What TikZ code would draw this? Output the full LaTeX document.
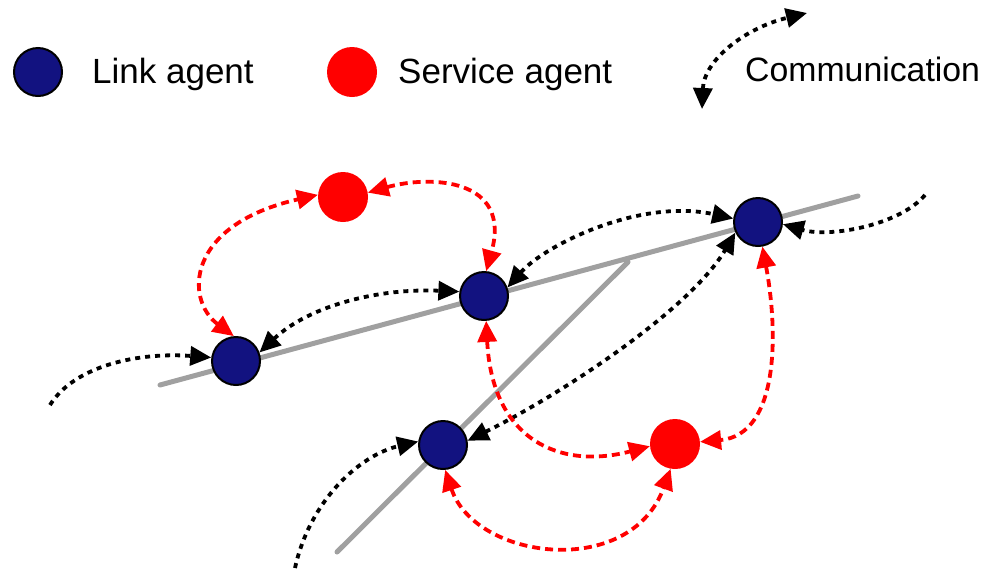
\documentclass[tikz,border=0pt]{standalone}
\usepackage{fontspec}
\setmainfont{Liberation Sans}
\usetikzlibrary{arrows.meta}
\definecolor{linkblue}{RGB}{18,18,128}
\definecolor{roadgray}{RGB}{160,160,160}
\tikzset{
  bigtip/.tip={Triangle[length=21pt,width=19pt]},
  linkagent/.style={circle, draw=black, line width=2pt, fill=linkblue, minimum size=48pt, inner sep=0pt},
  serviceagent/.style={circle, fill=red, minimum size=50pt, inner sep=0pt},
  road/.style={line width=5pt, draw=roadgray, line cap=round},
  comm/.style={line width=3.8pt, dash pattern=on 5pt off 5pt, draw=black},
  scomm/.style={line width=3.8pt, dash pattern=on 8pt off 5pt, draw=red},
  one/.style={-{bigtip}},
  two/.style={{bigtip}-{bigtip}},
  lbl/.style={font=\fontsize{35}{40}\selectfont, anchor=base west, inner sep=0pt}
}
\begin{document}
\begin{tikzpicture}[x=1pt,y=-1pt]
\useasboundingbox (0,0) rectangle (982,571);
% legend
\node[linkagent] (lgL) at (38,72) {};
\node[lbl] (tL) at (92,83) {Link agent};
\node[serviceagent] (lgS) at (352,72) {};
\node[lbl] (tS) at (398,83) {Service agent};
\node[lbl, font=\fontsize{33.8}{40}\selectfont] (tC) at (745,81) {Communication};
\coordinate (lgA) at (702,109);
\coordinate (lgB) at (807,13);
\draw[comm,two] (lgA) .. controls (704,60) and (745,28) .. (lgB);
% roads
\coordinate (r1) at (160,385);
\coordinate (r2) at (858,196);
\coordinate (rj) at (628,262);
\coordinate (r3) at (337,552);
\draw[road] (r1) -- (r2);
\draw[road] (rj) -- (r3);
% agents
\node[linkagent] (L1) at (236,361) {};
\node[linkagent] (L2) at (484,296) {};
\node[linkagent] (L3) at (758,222) {};
\node[linkagent] (L4) at (443,445) {};
\node[serviceagent] (S1) at (343,197) {};
\node[serviceagent] (S2) at (675,444) {};
% free ends
\coordinate (f1) at (50,405);
\coordinate (f2) at (925,195);
\coordinate (f3) at (295,568);
% black communications
\draw[comm,one] (f1) .. controls (75,365) and (140,352) .. (L1.172);
\draw[comm,two] (L1.20) .. controls (310,305) and (380,288) .. (L2.170);
\draw[comm,two] (L2.20) .. controls (545,245) and (640,198) .. (L3.172);
\draw[comm,one] (f2) .. controls (900,225) and (830,238) .. (L3.355);
\draw[comm,two] (L4.10) .. controls (560,395) and (690,310) .. (L3.205);
\draw[comm,one] (f3) .. controls (310,500) and (360,455) .. (L4.172);
% red communications
\draw[scomm,two] (L1.95) .. controls (185,300) and (185,225) .. (S1.175);
\draw[scomm,two] (S1.10) .. controls (430,175) and (512,178) .. (L2.85);
\draw[scomm,two] (L2.-85) .. controls (492,440) and (560,470) .. (S2.185);
\draw[scomm,two] (L3.-80) .. controls (778,330) and (780,435) .. (S2.5);
\draw[scomm,two] (L4.-85) .. controls (475,560) and (630,580) .. (S2.-100);
\end{tikzpicture}
\end{document}
